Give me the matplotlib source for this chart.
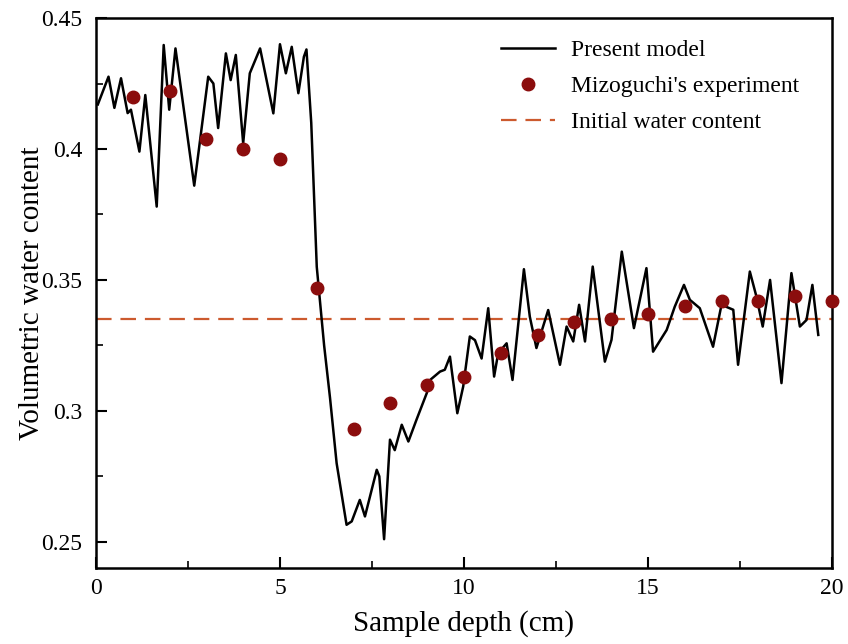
import numpy as np
import matplotlib
matplotlib.use('Agg')
import matplotlib.pyplot as plt
from matplotlib.ticker import MultipleLocator, FuncFormatter

plt.rcParams['font.family'] = ['Liberation Serif', 'DejaVu Serif']

# Present model (simulated profile)
model_depth = [0.05, 0.34, 0.5, 0.68, 0.86, 0.95, 1.18, 1.34, 1.65, 1.84, 1.99, 2.16, 2.67,
               3.05, 3.19, 3.32, 3.53, 3.66, 3.80, 4.0, 4.18, 4.46, 4.82, 5.0, 5.16, 5.32,
               5.5, 5.65, 5.72, 5.85, 6.0, 6.2, 6.36, 6.54, 6.81, 6.95, 7.17, 7.31, 7.63,
               7.7, 7.83, 7.99, 8.12, 8.31, 8.49, 8.71, 8.99, 9.08, 9.35, 9.48, 9.62, 9.82,
               9.98, 10.16, 10.3, 10.48, 10.66, 10.82, 10.93, 11.16, 11.32, 11.63, 11.79,
               11.97, 12.29, 12.61, 12.79, 12.97, 13.13, 13.29, 13.5, 13.83, 14.01, 14.29,
               14.62, 14.96, 15.14, 15.51, 15.73, 15.98, 16.14, 16.41, 16.77, 17.0, 17.32,
               17.45, 17.77, 17.95, 18.12, 18.32, 18.63, 18.9, 19.13, 19.31, 19.47, 19.63]
model_theta = [0.417, 0.4276, 0.4157, 0.427, 0.4137, 0.415, 0.399, 0.4206, 0.378, 0.4397,
               0.415, 0.4384, 0.386, 0.4276, 0.425, 0.408, 0.4365, 0.4263, 0.4359, 0.4022,
               0.4289, 0.4384, 0.4136, 0.440, 0.4289, 0.439, 0.4213, 0.4352, 0.438, 0.41,
               0.355, 0.325, 0.305, 0.280, 0.2565, 0.2578, 0.266, 0.2597, 0.2775, 0.275,
               0.251, 0.289, 0.285, 0.2947, 0.2883, 0.2966, 0.3068, 0.3118, 0.315, 0.3157,
               0.3207, 0.2991, 0.3093, 0.3284, 0.327, 0.320, 0.3392, 0.3131, 0.322, 0.3258,
               0.3118, 0.3541, 0.336, 0.324, 0.3385, 0.3176, 0.3322, 0.3265, 0.3405, 0.3265,
               0.3551, 0.3188, 0.3271, 0.3608, 0.3316, 0.3545, 0.3226, 0.3309, 0.3398, 0.3481,
               0.3424, 0.3392, 0.3245, 0.3405, 0.3386, 0.3176, 0.3532, 0.3436, 0.3322, 0.35,
               0.3106, 0.3526, 0.3322, 0.3347, 0.3481, 0.329]

# Mizoguchi's experiment
exp_depth = list(range(1, 21))
exp_theta = [0.420, 0.422, 0.404, 0.400, 0.396, 0.347, 0.293, 0.303, 0.310, 0.313,
             0.322, 0.329, 0.334, 0.335, 0.337, 0.340, 0.342, 0.342, 0.344, 0.342]

initial_theta = 0.335

fig = plt.figure(figsize=(8.48, 6.44), dpi=100)
ax = fig.add_axes([0.1132, 0.118, 0.8678, 0.854])

ax.plot(model_depth, model_theta, color='black', lw=1.8, label='Present model', zorder=3)
ax.plot(exp_depth, exp_theta, 'o', color='#8b0d0d', ms=9, label="Mizoguchi's experiment",
        zorder=4, clip_on=False)
ax.axhline(initial_theta, color='#cc5a2e', lw=1.6, ls=(0, (7, 4)), label='Initial water content',
           zorder=2)

ax.set_xlim(0, 20)
ax.set_ylim(0.24, 0.45)
ax.xaxis.set_major_locator(MultipleLocator(5))
ax.xaxis.set_minor_locator(MultipleLocator(2.5))
ax.yaxis.set_major_locator(MultipleLocator(0.05))
ax.yaxis.set_minor_locator(MultipleLocator(0.025))
ax.yaxis.set_major_formatter(FuncFormatter(lambda v, p: '%g' % round(v, 3)))
ax.tick_params(which='both', direction='in', top=False, right=False, labelsize=17)
ax.tick_params(axis='y', pad=10)
ax.tick_params(axis='x', pad=7)
ax.tick_params(which='major', length=8, width=1.5)
ax.tick_params(which='minor', length=5, width=1.2)
for s in ax.spines.values():
    s.set_linewidth(1.8)

ax.set_xlabel('Sample depth (cm)', fontsize=21, labelpad=8)
ax.set_ylabel('Volumetric water content', fontsize=21, labelpad=-3)

ax.legend(loc='upper right', frameon=False, fontsize=17, handlelength=2.3,
          bbox_to_anchor=(0.985, 1.0), labelspacing=0.62, handletextpad=0.7)

fig.savefig('out.png', dpi=100)
